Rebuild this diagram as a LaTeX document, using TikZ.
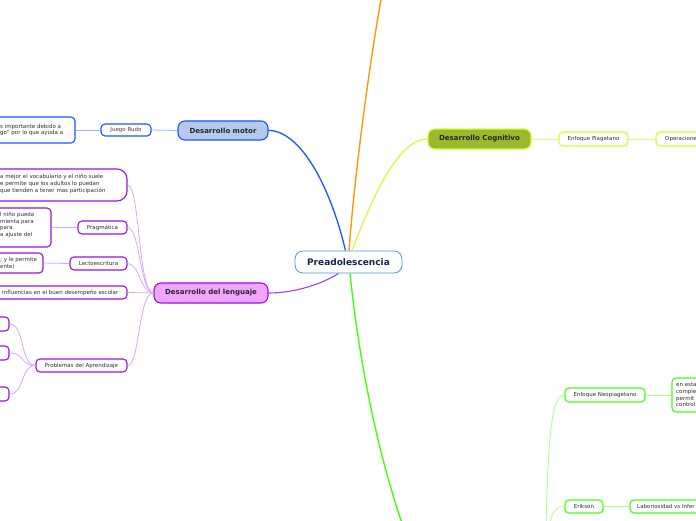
\documentclass[tikz,border=0pt]{standalone}
\usepackage{fontspec}
\setmainfont{DejaVu Sans}
\definecolor{blueL}{HTML}{1A55FF}
\definecolor{blueF}{HTML}{B5C9EC}
\definecolor{rootB}{HTML}{4A9AD8}
\definecolor{rootT}{HTML}{14264F}
\definecolor{orangeL}{HTML}{FF9A00}
\definecolor{yelL}{HTML}{CCFF33}
\definecolor{yelF}{HTML}{9CB82C}
\definecolor{purL}{HTML}{A63CFF}
\definecolor{purB}{HTML}{9B10E6}
\definecolor{purF}{HTML}{F0A6FF}
\definecolor{purT}{HTML}{DCA4FF}
\definecolor{grnL}{HTML}{44FF11}
\definecolor{grnT}{HTML}{A8FF88}
\definecolor{txt}{HTML}{2E2E2E}
\definecolor{rudo}{HTML}{6B2B3B}
\begin{document}
\begin{tikzpicture}[x=1pt,y=-1pt,
  small/.style={font=\fontsize{5.5}{6.7}\selectfont, text=txt},
  box/.style={draw, line width=1.1pt, fill=white, rounded corners=4pt, inner sep=0, small},
  mainbox/.style={draw, line width=1.1pt, rounded corners=7pt, inner sep=0, font=\fontsize{7}{8}\selectfont\bfseries, text=black!85},
  thinB/.style={draw=blueL!45, line width=0.8pt},
  thinY/.style={draw=yelL!70, line width=0.8pt},
  thinP/.style={draw=purT, line width=0.8pt},
  thinG/.style={draw=grnT, line width=0.8pt},
  lbl/.style={small, anchor=west, inner sep=0, align=left}
]
\useasboundingbox (0,0) rectangle (696,520);

% main connectors
\coordinate (orEnd) at (382,-6);
\coordinate (grEnd) at (403,526);

% root
\node[draw=rootB, line width=0.8pt, fill=white, rounded corners=8pt, minimum width=107pt, minimum height=22pt, inner sep=0, font=\fontsize{9}{10}\selectfont\bfseries, text=rootT] (root) at (348.5,262) {Preadolescencia};

% Desarrollo motor
\node[mainbox, draw=blueL, fill=blueF, minimum width=90pt, minimum height=19pt] (motor) at (223,130.5) {Desarrollo motor};
\node[box, draw=blueL, minimum width=50pt, minimum height=12pt, text=rudo] (rudo) at (126,130) {Juego Rudo};
\node[box, draw=blueL, minimum width=115pt, minimum height=26pt] (rudoT) at (17.5,130) {};
\node[lbl] (rudoTx) at (0,130) {s importante debido a\\go" por lo que ayuda a};

% Desarrollo Cognitivo
\node[mainbox, draw=yelL, fill=yelF, minimum width=103pt, minimum height=20pt] (cog) at (479.5,139) {Desarrollo Cognitivo};
\node[box, draw=yelL, minimum width=69pt, minimum height=14pt] (piag) at (593.5,139) {Enfoque Piagetano};
\node[box, draw=yelL, minimum width=64pt, minimum height=14pt] (oper) at (688,139) {};
\node[lbl] (operTx) at (665,139) {Operacione};

% Desarrollo del lenguaje
\node[mainbox, draw=purB, fill=purF, minimum width=114pt, minimum height=20pt] (len) at (211,293) {Desarrollo del lenguaje};
\node[box, draw=purB, rounded corners=10pt, minimum width=187pt, minimum height=32pt] (vocab) at (33.5,185) {};
\node[lbl] (vocabTx) at (0,184) {a mejor el vocabulario y el niño suele\\e permite que los adultos lo puedan\\que tienden a tener mas participación};
\node[box, draw=purB, minimum width=49pt, minimum height=13pt] (prag) at (102.5,227.5) {Pragmática};
\node[box, draw=purB, minimum width=91pt, minimum height=39pt] (pragT) at (5.5,227.5) {};
\node[lbl] (pragTx) at (0,225) {l niño pueda\\mienta para\\para\\a ajuste del};
\node[box, draw=purB, minimum width=57pt, minimum height=13pt] (lecto) at (98.5,263.5) {Lectoescritura};
\node[box, draw=purB, minimum width=83pt, minimum height=20pt] (lectoT) at (1.5,263) {};
\node[lbl] (lectoTx) at (0,263.5) {; y le permite\\ente)};
\node[box, draw=purB, minimum width=137pt, minimum height=13pt] (infl) at (58.5,292.5) {};
\node[lbl] (inflTx) at (2,292.5) {Influencias en el buen desempeño escolar};
\node[box, draw=purB, minimum width=91pt, minimum height=13pt] (prob) at (81.5,365.5) {Problemas del Aprendizaje};
\node[box, draw=purB, minimum width=49pt, minimum height=14pt] (p1) at (-15.5,324) {};
\node[box, draw=purB, minimum width=49pt, minimum height=14pt] (p2) at (-15.5,353) {};
\node[box, draw=purB, minimum width=49pt, minimum height=14pt] (p3) at (-15.5,394) {};

% green branch
\coordinate (gA) at (546,526);
\coordinate (gB) at (549,526);
\node[box, draw=grnL, minimum width=80pt, minimum height=14pt] (neo) at (605,395) {Enfoque Neopiagetano};
\node[box, draw=grnL, minimum width=70pt, minimum height=34pt] (neoT) at (707,395) {};
\node[lbl] (neoTx) at (676,395) {en esta\\comple\\permit\\control};
\node[box, draw=grnL, minimum width=38pt, minimum height=13pt] (erik) at (584,506.5) {Erikson};
\node[box, draw=grnL, minimum width=90pt, minimum height=13pt] (labo) at (675,506.5) {};
\node[lbl] (laboTx) at (637,506.5) {Laboriosidad vs Infer};

% main curves
\draw[blueL, line width=1.3pt] ([xshift=-3pt]root.north) .. controls (330,185) and (300,130.5) .. (motor.east);
\draw[orangeL, line width=1.4pt] ([xshift=0.5pt]root.north) .. controls (355,170) and (370,60) .. (orEnd);
\draw[yelL, line width=1.2pt] ([xshift=3.5pt]root.north) .. controls (375,190) and (400,139) .. (cog.west);
\draw[purL, line width=1.1pt] ([xshift=-10pt]root.south) .. controls (322,284) and (295,293) .. (len.east);
\draw[grnL, line width=1.4pt] ([xshift=1.5pt]root.south) .. controls (360,370) and (380,460) .. (grEnd);

% thin connectors
\draw[thinB] (motor.west) -- (rudo.east);
\draw[thinB] (rudo.west) -- (rudoT.east);
\draw[thinY] (cog.east) -- (piag.west);
\draw[thinY] (piag.east) -- (oper.west);
\draw[thinP] (len.west) .. controls (138,293) and (140,185) .. (vocab.east);
\draw[thinP] (len.west) .. controls (140,293) and (140,227.5) .. (prag.east);
\draw[thinP] (len.west) .. controls (140,293) and (140,263.5) .. (lecto.east);
\draw[thinP] (len.west) -- (infl.east);
\draw[thinP] (len.west) .. controls (138,293) and (140,365.5) .. (prob.east);
\draw[thinP] (prag.west) -- (pragT.east);
\draw[thinP] (lecto.west) -- (lectoT.east);
\draw[thinP] (prob.west) .. controls (20,365.5) and (25,324) .. (p1.east);
\draw[thinP] (prob.west) .. controls (20,365.5) and (25,353) .. (p2.east);
\draw[thinP] (prob.west) .. controls (20,365.5) and (25,394) .. (p3.east);
\draw[thinG] (gA) .. controls (548,450) and (550,395) .. (neo.west);
\draw[thinG] (gB) .. controls (552,512) and (556,506.5) .. (erik.west);
\draw[thinG] (neo.east) -- (neoT.west);
\draw[thinG] (erik.east) -- (labo.west);
\end{tikzpicture}
\end{document}
